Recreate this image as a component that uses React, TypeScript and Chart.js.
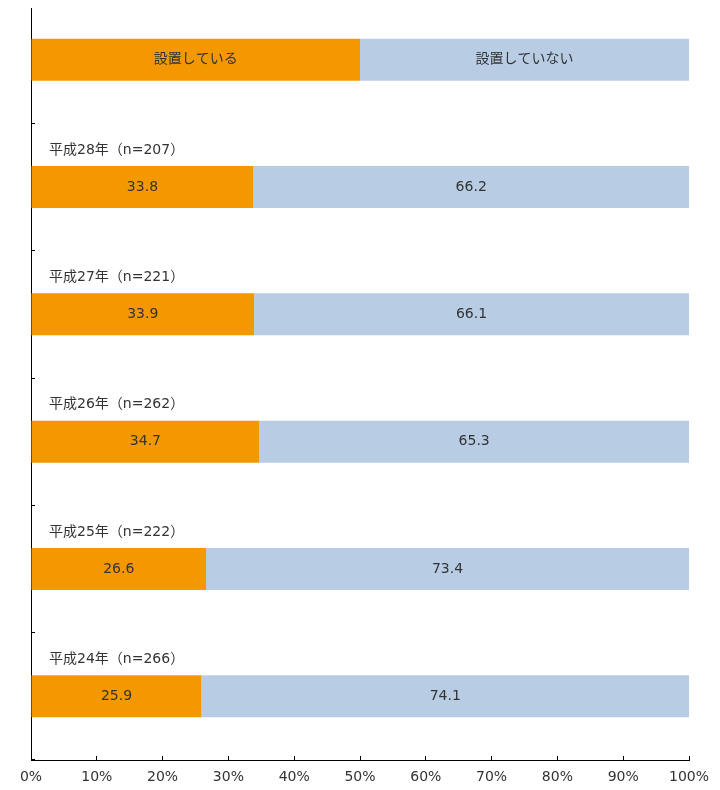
import React, { useEffect, useRef } from "react";
import { Chart, registerables } from "chart.js";

Chart.register(...registerables);

const categories = [
  "",
  "平成28年（n=207）",
  "平成27年（n=221）",
  "平成26年（n=262）",
  "平成25年（n=222）",
  "平成24年（n=266）",
];
const seriesNames = ["設置している", "設置していない"];
const installed = [50, 33.8, 33.9, 34.7, 26.6, 25.9];
const notInstalled = [50, 66.2, 66.1, 65.3, 73.4, 74.1];
const xTickValues = [0, 10, 20, 30, 40, 50, 60, 70, 80, 90, 100];

const FONT = "'DejaVu Sans', 'Noto Sans CJK JP', sans-serif";
const TEXT = "#333333";

const labelPlugin = {
  id: "barLabels",
  afterDatasetsDraw(chart: any) {
    const ctx = chart.ctx;
    ctx.save();
    ctx.font = `14px ${FONT}`;
    ctx.fillStyle = TEXT;
    ctx.textBaseline = "middle";
    chart.data.datasets.forEach((ds: any, di: number) => {
      const meta = chart.getDatasetMeta(di);
      meta.data.forEach((el: any, i: number) => {
        const cx = (el.x + el.base) / 2;
        ctx.textAlign = "center";
        const txt = i === 0 ? ds.label : Number(ds.data[i]).toFixed(1);
        ctx.fillText(txt, cx, el.y);
      });
    });
    const meta0 = chart.getDatasetMeta(0);
    meta0.data.forEach((el: any, i: number) => {
      const lbl = categories[i];
      if (!lbl) return;
      ctx.textAlign = "left";
      ctx.fillText(lbl, chart.chartArea.left + 18, el.y - el.height / 2 - 16);
    });
    ctx.restore();
  },
};

export default function App() {
  const ref = useRef<HTMLCanvasElement | null>(null);
  useEffect(() => {
    if (!ref.current) return;
    const chart = new Chart(ref.current, {
      type: "bar",
      data: {
        labels: categories,
        datasets: [
          {
            label: seriesNames[0],
            data: installed,
            backgroundColor: "#F39800",
            borderWidth: 0,
          },
          {
            label: seriesNames[1],
            data: notInstalled,
            backgroundColor: "#B8CCE4",
            borderWidth: 0,
          },
        ],
      },
      options: {
        indexAxis: "y",
        responsive: false,
        animation: false,
        devicePixelRatio: 1,
        layout: { padding: { left: 23, right: 23, top: 0, bottom: 0 } },
        datasets: { bar: { categoryPercentage: 1, barPercentage: 0.33 } },
        plugins: {
          legend: { display: false },
          tooltip: { enabled: false },
        },
        scales: {
          x: {
            stacked: true,
            min: 0,
            max: 100,
            afterBuildTicks: (s: any) => {
              s.ticks = xTickValues.map((v) => ({ value: v }));
            },
            afterFit: (s: any) => {
              s.height = 36;
              s.paddingLeft = 0;
              s.paddingRight = 0;
            },
            ticks: {
              callback: (v: any) => v + "%",
              font: { family: FONT, size: 14 },
              color: TEXT,
              padding: 13,
              maxRotation: 0,
              autoSkip: false,
            },
            grid: {
              display: true,
              drawOnChartArea: false,
              drawTicks: true,
              tickLength: -4,
              color: "#000",
            },
            border: { display: true, color: "#000", width: 1 },
          },
          y: {
            stacked: true,
            afterFit: (s: any) => {
              s.width = 0;
              s.paddingTop = 0;
              s.paddingBottom = 0;
            },
            ticks: { display: false },
            grid: {
              display: true,
              offset: true,
              drawOnChartArea: false,
              drawTicks: true,
              tickLength: -4,
              color: "#000",
            },
            border: { display: true, color: "#000", width: 1 },
          },
        },
      },
      plugins: [labelPlugin],
    });
    return () => chart.destroy();
  }, []);

  return (
    <div style={{ width: 704, height: 774, overflow: "hidden" }}>
      <div style={{ position: "relative", top: -12, width: 704, height: 800 }}>
        <canvas ref={ref} width={704} height={800} style={{ display: "block" }} />
      </div>
    </div>
  );
}
